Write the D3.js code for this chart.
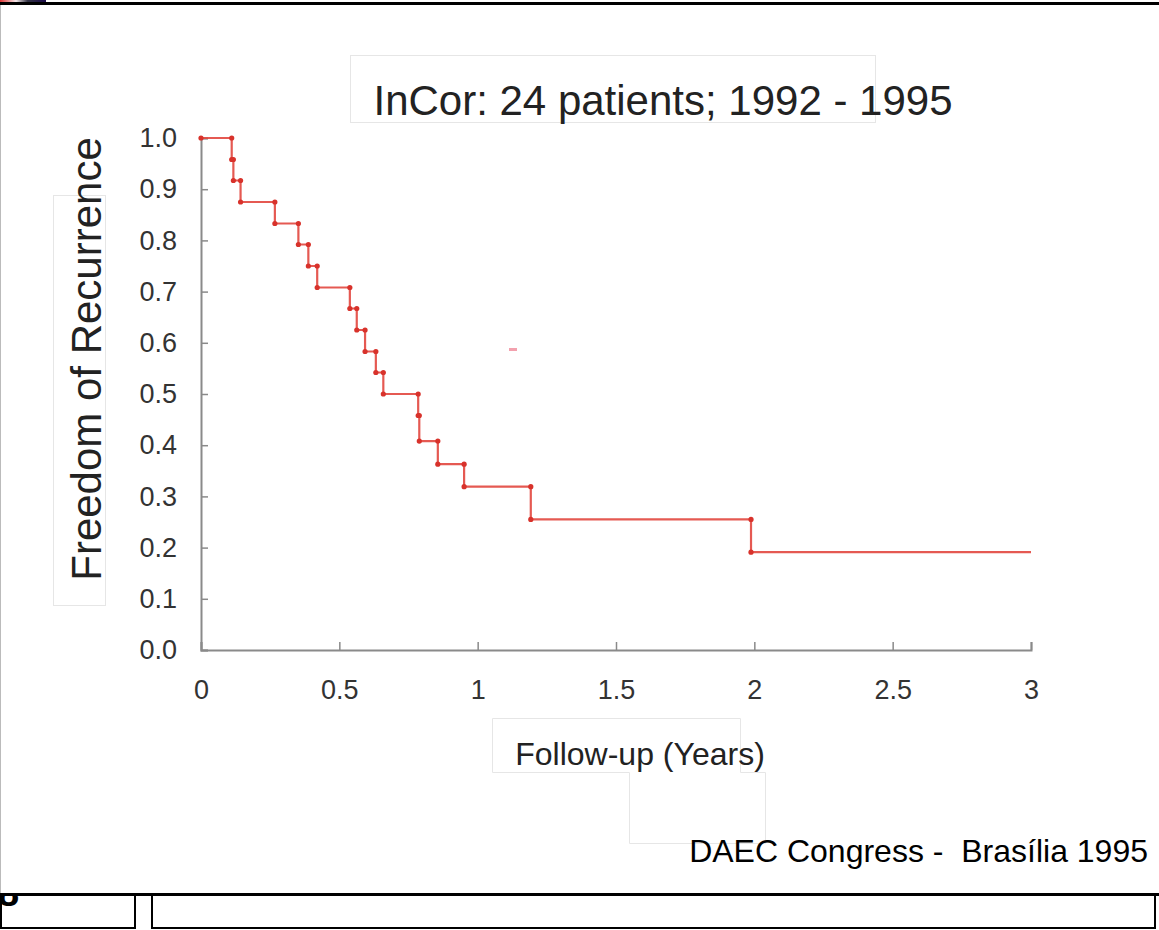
<!DOCTYPE html>
<html>
<head>
<meta charset="utf-8">
<script src="https://cdn.jsdelivr.net/npm/d3@7"></script>
<style>
  body { margin: 0; background: #fff; }
  svg { display: block; font-family: "Liberation Sans", Arial, sans-serif; }
</style>
</head>
<body>
<script>
// Kaplan-Meier style step curve
var times    = [0, 0.111, 0.117, 0.143, 0.267, 0.352, 0.388, 0.420, 0.538, 0.563, 0.593, 0.632, 0.659, 0.785, 0.789, 0.856, 0.951, 1.192, 1.988];
var survival = [1.0, 0.958, 0.917, 0.875, 0.833, 0.792, 0.750, 0.708, 0.667, 0.625, 0.583, 0.542, 0.500, 0.458, 0.408, 0.363, 0.319, 0.255, 0.191];
var followEnd = 3;

var xTicks = [0, 0.5, 1, 1.5, 2, 2.5, 3];
var xTickLabels = ["0", "0.5", "1", "1.5", "2", "2.5", "3"];
var yTicks = [0, 0.1, 0.2, 0.3, 0.4, 0.5, 0.6, 0.7, 0.8, 0.9, 1.0];

var titleText = "InCor: 24 patients; 1992 - 1995";
var yTitle = "Freedom of Recurrence";
var xTitle = "Follow-up (Years)";
var footer = "DAEC Congress -  Brasília 1995";

var W = 1159, H = 930;

var svg = d3.select("body").append("svg")
    .attr("width", W)
    .attr("height", H);

// slide frame bits
svg.append("line").attr("x1", 0.5).attr("x2", 0.5).attr("y1", 4).attr("y2", 894)
    .attr("stroke", "#bbb").attr("stroke-width", 1);

var grad = svg.append("defs").append("linearGradient").attr("id", "strip");
grad.append("stop").attr("offset", "0%").attr("stop-color", "#d33");
grad.append("stop").attr("offset", "35%").attr("stop-color", "#f4e8ea");
grad.append("stop").attr("offset", "60%").attr("stop-color", "#334");
grad.append("stop").attr("offset", "100%").attr("stop-color", "#1a0a4a");
svg.append("rect").attr("x", 0).attr("y", 0).attr("width", 46).attr("height", 2)
    .attr("fill", "url(#strip)");
svg.append("rect").attr("x", 0).attr("y", 2).attr("width", W).attr("height", 3)
    .attr("fill", "#000");

// faint boxes behind the labels
var boxStroke = "#e6e6e6";
svg.append("rect").attr("x", 350.5).attr("y", 55.5).attr("width", 525).attr("height", 67)
    .attr("fill", "none").attr("stroke", boxStroke);
svg.append("rect").attr("x", 53.5).attr("y", 195.5).attr("width", 52).attr("height", 410)
    .attr("fill", "none").attr("stroke", boxStroke);
svg.append("path")
    .attr("d", "M492.5,718.5 H740.5 V772.5 H765.5 V843.5 H629.5 V772.5 H492.5 Z")
    .attr("fill", "none").attr("stroke", boxStroke);

// scales
var x = d3.scaleLinear().domain([0, followEnd]).range([201, 1031]);
var y = d3.scaleLinear().domain([0, 1]).range([650, 138]);

var axisColor = "#8a8a8a";

var gx = svg.append("g")
    .attr("transform", "translate(0," + y(0) + ")")
    .call(d3.axisBottom(x).tickValues(xTicks).tickSize(-8).tickPadding(30)
      .tickFormat(function(d, i) { return xTickLabels[i]; }));
var gy = svg.append("g")
    .attr("transform", "translate(" + x(0) + ",0)")
    .call(d3.axisLeft(y).tickValues(yTicks).tickSize(-7).tickPadding(24)
      .tickFormat(d3.format(".1f")));

[gx, gy].forEach(function(g) {
  g.select(".domain").attr("stroke", axisColor).attr("stroke-width", 2);
  g.selectAll(".tick line").attr("stroke", axisColor).attr("stroke-width", 1.5);
  g.selectAll(".tick text").attr("fill", "#333").style("font-size", "27px")
    .style("font-family", "'Liberation Sans', Arial, sans-serif");
});
gx.selectAll(".tick text").attr("dy", "0.71em");

// step curve
var pts = times.map(function(t, i) { return [t, survival[i]]; });
pts.push([followEnd, survival[survival.length - 1]]);

var line = d3.line()
    .x(function(d) { return x(d[0]); })
    .y(function(d) { return y(d[1]); })
    .curve(d3.curveStepAfter);

svg.append("path")
    .datum(pts)
    .attr("d", line)
    .attr("fill", "none")
    .attr("stroke", "#e2473f")
    .attr("stroke-opacity", 0.9)
    .attr("stroke-width", 2.2);

// markers at each corner of the steps
var dots = [[0, 1.0]];
for (var i = 1; i < times.length; i++) {
  dots.push([times[i], survival[i - 1]]);
  dots.push([times[i], survival[i]]);
}
svg.selectAll("circle.km")
    .data(dots)
  .enter().append("circle")
    .attr("class", "km")
    .attr("cx", function(d) { return x(d[0]); })
    .attr("cy", function(d) { return y(d[1]); })
    .attr("r", 2.6)
    .attr("fill", "#d8322b");

// stray mark on the slide
svg.append("rect").attr("x", 509).attr("y", 348).attr("width", 8).attr("height", 3)
    .attr("fill", "#f08a9a").attr("opacity", 0.8);

// titles
svg.append("text")
    .attr("x", 663).attr("y", 115)
    .attr("text-anchor", "middle")
    .style("font-size", "42px").attr("fill", "#222")
    .text(titleText);

svg.append("text")
    .attr("transform", "translate(101,359) rotate(-90)")
    .attr("text-anchor", "middle")
    .style("font-size", "42px").attr("fill", "#222")
    .text(yTitle);

svg.append("text")
    .attr("x", 640).attr("y", 765)
    .attr("text-anchor", "middle")
    .style("font-size", "32px").attr("fill", "#222")
    .text(xTitle);

svg.append("text")
    .attr("x", 1148).attr("y", 862)
    .attr("text-anchor", "end")
    .attr("xml:space", "preserve")
    .style("white-space", "pre")
    .style("font-size", "32px").attr("fill", "#000")
    .text(footer);

// bottom strip of the slide (the "8" is cut by the frame line, as on the slide)
svg.append("defs").append("clipPath").attr("id", "cut")
  .append("rect").attr("x", 0).attr("y", 895).attr("width", 140).attr("height", 40);
svg.append("text")
    .attr("x", -2).attr("y", 906)
    .attr("clip-path", "url(#cut)")
    .style("font-size", "38px").style("font-weight", "bold").attr("fill", "#000")
    .text("8");

svg.append("rect").attr("x", 0).attr("y", 893).attr("width", W).attr("height", 3).attr("fill", "#000");
svg.append("rect").attr("x", 1).attr("y", 894).attr("width", 134).attr("height", 34)
    .attr("fill", "none").attr("stroke", "#000").attr("stroke-width", 2);
svg.append("rect").attr("x", 152).attr("y", 894).attr("width", 1003).attr("height", 34)
    .attr("fill", "none").attr("stroke", "#000").attr("stroke-width", 2);
</script>
</body>
</html>
